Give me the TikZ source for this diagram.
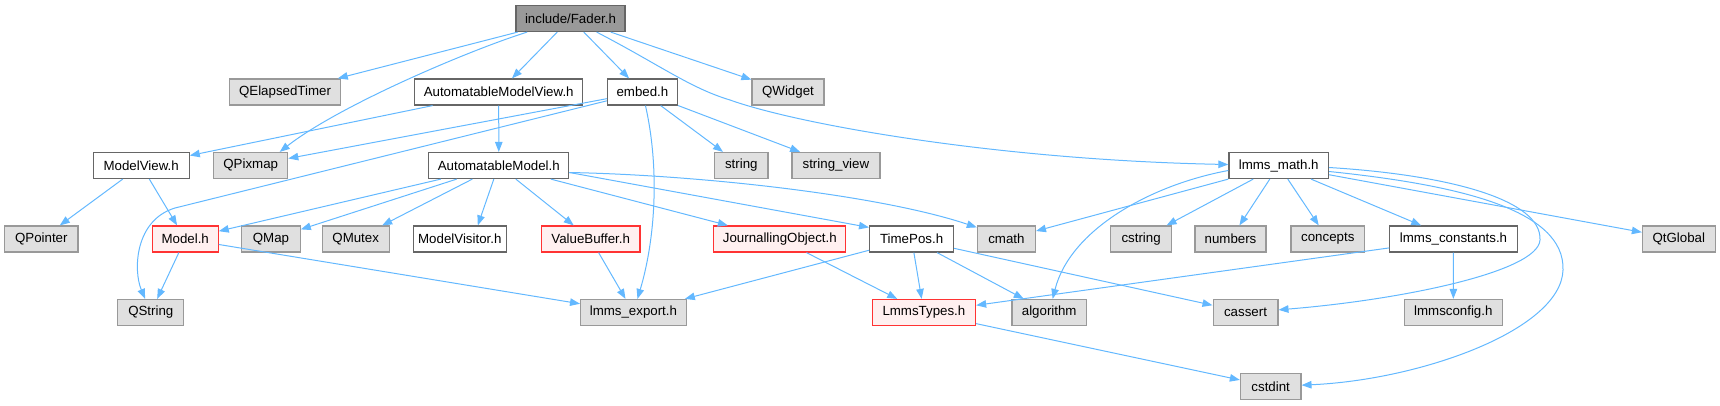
\documentclass[tikz,border=0pt]{standalone}
\usepackage{fontspec}
\setmainfont{Liberation Sans}
\usetikzlibrary{arrows.meta}
\definecolor{edgec}{HTML}{63B8FF}
\definecolor{extfill}{HTML}{E0E0E0}
\definecolor{extdraw}{HTML}{999999}
\definecolor{rootfill}{HTML}{999999}
\definecolor{normdraw}{HTML}{666666}
\definecolor{redfill}{HTML}{FFF0F0}
\definecolor{reddraw}{HTML}{FF3333}
\tikzset{
  box/.style={rectangle, inner sep=0pt, minimum height=26pt, line width=1.2pt,
    font=\fontsize{13.3}{15}\selectfont, text=black},
  root/.style={box, fill=rootfill, draw=normdraw},
  ext/.style={box, fill=extfill, draw=extdraw},
  norm/.style={box, fill=white, draw=normdraw},
  redn/.style={box, fill=redfill, draw=reddraw},
  edge/.style={draw=edgec, line width=1pt, -{Triangle[length=10pt,width=7.5pt]}},
}
\begin{document}
\begin{tikzpicture}[x=1pt,y=-1pt]
\useasboundingbox (0,0) rectangle (1720,405);
% row 1
\node[root, minimum width=109pt] (fader) at (570.5,18.5) {include/Fader.h};
% row 2
\node[ext, minimum width=111pt] (qet) at (285,92) {QElapsedTimer};
\node[norm, minimum width=168pt] (amv) at (498.7,92) {AutomatableModelView.h};
\node[norm, minimum width=70pt] (embed) at (642.4,92) {embed.h};
\node[ext, minimum width=72pt] (qwidget) at (788,92) {QWidget};
% row 3
\node[norm, minimum width=96pt] (mv) at (141.2,165.5) {ModelView.h};
\node[ext, minimum width=74pt] (qpix) at (250.7,165.5) {QPixmap};
\node[norm, minimum width=140pt] (am) at (498.8,165.5) {AutomatableModel.h};
\node[ext, minimum width=53.5pt] (string) at (741.3,165.5) {string};
\node[ext, minimum width=88pt] (sv) at (835.9,165.5) {string\_view};
\node[norm, minimum width=99.6pt] (lm) at (1278.7,165.5) {lmms\_math.h};
% row 4
\node[ext, minimum width=73.4pt] (qpointer) at (41.3,239) {QPointer};
\node[redn, minimum width=66pt] (model) at (185.2,239) {Model.h};
\node[ext, minimum width=58.5pt] (qmap) at (271,239) {QMap};
\node[ext, minimum width=67pt] (qmutex) at (355.7,239) {QMutex};
\node[norm, minimum width=93pt] (mvis) at (459.8,239) {ModelVisitor.h};
\node[redn, minimum width=98.4pt] (vb) at (590.7,239) {ValueBuffer.h};
\node[redn, minimum width=132pt] (jo) at (779.8,239) {JournallingObject.h};
\node[norm, minimum width=84pt] (tp) at (911.6,239) {TimePos.h};
\node[ext, minimum width=58pt] (cmath) at (1006.4,239) {cmath};
\node[ext, minimum width=61pt] (cstring) at (1141.1,239) {cstring};
\node[ext, minimum width=71pt] (numbers) at (1230.5,239) {numbers};
\node[ext, minimum width=73.5pt] (concepts) at (1327.8,239) {concepts};
\node[norm, minimum width=127.3pt] (lc) at (1453.5,239) {lmms\_constants.h};
\node[ext, minimum width=72.7pt] (qtglobal) at (1678.8,239) {QtGlobal};
% row 5
\node[ext, minimum width=66pt] (qstring) at (150.8,312.5) {QString};
\node[ext, minimum width=105.6pt] (lexp) at (633.4,312.5) {lmms\_export.h};
\node[redn, minimum width=103.3pt] (lt) at (923.9,312.5) {LmmsTypes.h};
\node[ext, minimum width=74.6pt] (alg) at (1049.2,312.5) {algorithm};
\node[ext, minimum width=64.8pt] (cassert) at (1245.5,312.5) {cassert};
\node[ext, minimum width=97.6pt] (lcfg) at (1453.3,312.5) {lmmsconfig.h};
% row 6
\node[ext, minimum width=60.5pt] (cstdint) at (1270.7,386.5) {cstdint};

% edges from Fader.h
\draw[edge] (fader) -- (qet);
\draw[edge] (fader) .. controls (470,50) and (340,105) .. ([xshift=29pt]qpix.north);
\draw[edge] (fader) -- (amv);
\draw[edge] (fader) -- (embed);
\draw[edge] (fader) -- (qwidget);
\draw[edge] (fader) .. controls (660,65) and (690,88) .. (730,100)
  .. controls (800,125) and (1000,160) .. (lm);
% AutomatableModelView.h
\draw[edge] (amv) -- (mv);
\draw[edge] (amv) -- (am);
% embed.h
\draw[edge] (embed) -- (qpix);
\draw[edge] (embed) -- (175,208) .. controls (135,220) and (133,270) .. (qstring);
\draw[edge] (embed) .. controls (660,170) and (655,240) .. (lexp);
\draw[edge] (embed) -- (string);
\draw[edge] (embed) -- (sv);
% ModelView.h
\draw[edge] (mv) -- (qpointer);
\draw[edge] (mv) -- (model);
% Model.h
\draw[edge] (model) -- (qstring);
\draw[edge] (model) -- (lexp);
% AutomatableModel.h
\draw[edge] (am) -- (model);
\draw[edge] (am) -- (qmap);
\draw[edge] (am) -- (qmutex);
\draw[edge] ([xshift=-5pt]am.south) -- ([xshift=18pt]mvis.north);
\draw[edge] (am) -- (vb);
\draw[edge] (am) -- (jo);
\draw[edge] ([yshift=-7pt]am.east) -- ([yshift=-2pt]tp.north west);
\draw[edge] ([yshift=-7pt]am.east) .. controls (700,175) and (880,195) .. ([yshift=-2pt]cmath.north west);
% ValueBuffer, JournallingObject, TimePos
\draw[edge] (vb) -- (lexp);
\draw[edge] (jo) -- (lt);
\draw[edge] (tp) -- (lexp);
\draw[edge] (tp) -- (lt);
\draw[edge] (tp) -- (alg);
\draw[edge] (tp) -- (cassert);
\draw[edge] (lt) -- (cstdint);
% lmms_math.h
\draw[edge] (lm) -- (cmath);
\draw[edge] ([yshift=-5pt]lm.west) .. controls (1150,185) and (1070,230) .. (alg);
\draw[edge] (lm) -- (cstring);
\draw[edge] (lm) -- (numbers);
\draw[edge] (lm) -- (concepts);
\draw[edge] (lm) -- (lc);
\draw[edge] (lm) -- (qtglobal);
\draw[edge] ([yshift=-2pt]lm.east) .. controls (1450,175) and (1542,200) .. (1540,240)
  .. controls (1538,272) and (1400,300) .. (cassert);
\draw[edge] ([yshift=-6pt]lm.east) .. controls (1460,185) and (1565,210) .. (1563,270)
  .. controls (1561,330) and (1420,380) .. (cstdint);
% lmms_constants.h
\draw[edge] (lc) -- (lt);
\draw[edge] (lc) -- (lcfg);
\end{tikzpicture}
\end{document}
